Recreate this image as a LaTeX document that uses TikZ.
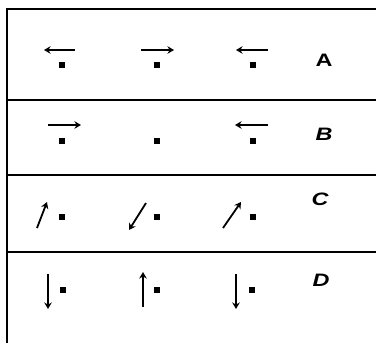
\documentclass[tikz,border=0pt]{standalone}
\usepackage{fontspec}
\setmainfont{Liberation Sans}
\usetikzlibrary{arrows.meta}
\begin{document}
\begin{tikzpicture}[x=1pt,y=-1pt,
  dotsq/.style={fill=black,minimum width=6.5pt,minimum height=6pt,inner sep=0pt,draw=none,rectangle},
  spin/.style={line width=1.8pt,-{Stealth[length=6.5pt,width=7.5pt]}},
  rule/.style={line width=1.8pt},
  lab/.style={font=\fontsize{18}{18}\selectfont\bfseries,xscale=1.3}]
\useasboundingbox (0,0) rectangle (376,343);
% frame
\draw[rule] (7,343) -- (7,9) -- (376,9);
\draw[rule] (7,100) -- (376,100);
\draw[rule] (7,175) -- (376,175);
\draw[rule] (7,252) -- (376,252);
% row A
\node[dotsq] (a1) at (62,65) {};
\node[dotsq] (a2) at (157,65) {};
\node[dotsq] (a3) at (253,65) {};
\draw[spin] (75,50) -- (44,50);
\draw[spin] (141,50) -- (174,50);
\draw[spin] (268,50) -- (236,50);
\node[lab] (la) at (324,60) {A};
% row B
\node[dotsq] (b1) at (62,141) {};
\node[dotsq] (b2) at (157,141) {};
\node[dotsq] (b3) at (253,141) {};
\draw[spin] (48,125) -- (81,125);
\draw[spin] (268,125) -- (235,125);
\node[lab] (lb) at (324,134) {\itshape B};
% row C
\node[dotsq] (c1) at (62,217) {};
\node[dotsq] (c2) at (157,217) {};
\node[dotsq] (c3) at (253,217) {};
\draw[spin] (37,228) -- (47,202);
\draw[spin] (146,203) -- (129,230);
\draw[spin] (223,228) -- (241,202);
\node[lab] (lc) at (320,199) {\itshape C};
% row D
\node[dotsq] (d1) at (63,290) {};
\node[dotsq] (d2) at (157,290) {};
\node[dotsq] (d3) at (252,290) {};
\draw[spin] (48,274) -- (48,309);
\draw[spin] (143,307) -- (143,272);
\draw[spin] (236,274) -- (236,309);
\node[lab] (ld) at (321,280) {\itshape D};
\end{tikzpicture}
\end{document}
